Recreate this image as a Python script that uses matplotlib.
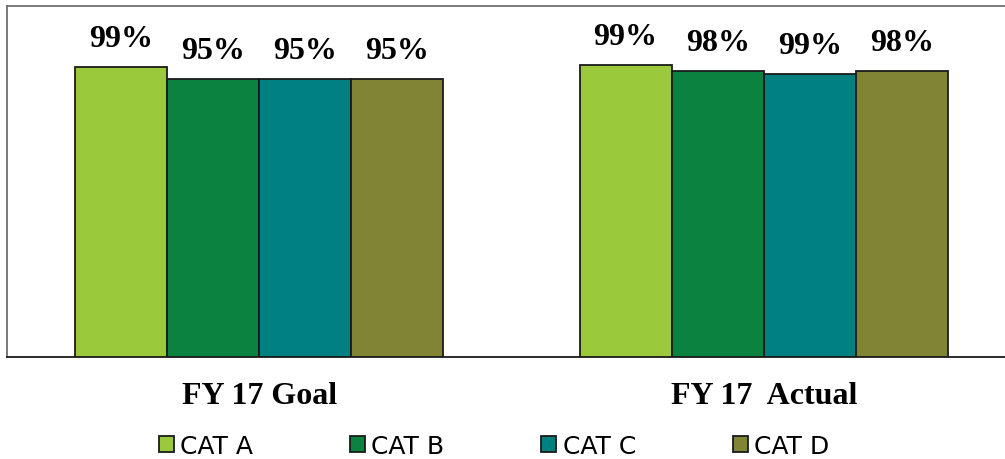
import matplotlib
matplotlib.use("Agg")
import matplotlib.pyplot as plt
from matplotlib.patches import Patch
import numpy as np

groups = ["FY 17 Goal", "FY 17  Actual"]
categories = ["CAT A", "CAT B", "CAT C", "CAT D"]
values = {
    "CAT A": [99.0, 99.7],
    "CAT B": [95.0, 97.8],
    "CAT C": [95.0, 96.8],
    "CAT D": [95.0, 97.8],
}
labels = {
    "CAT A": ["99%", "99%"],
    "CAT B": ["95%", "98%"],
    "CAT C": ["95%", "99%"],
    "CAT D": ["95%", "98%"],
}
colors = ["#9ACA3C", "#0C8241", "#008080", "#808434"]

W, H = 1005, 460
fig = plt.figure(figsize=(W / 100, H / 100), dpi=100)
ax = fig.add_axes([7 / W, (H - 358) / H, 1009 / W, 351 / H])

x = np.arange(len(groups))
bw = 92 / 504
serif = ["Liberation Serif", "DejaVu Serif"]
for i, cat in enumerate(categories):
    pos = x + (i - 1.5) * bw
    bars = ax.bar(pos, values[cat], width=bw, color=colors[i],
                  edgecolor="#1a1a1a", linewidth=1.3, zorder=3)
    for b, lab in zip(bars, labels[cat]):
        ax.annotate(lab, (b.get_x() + b.get_width() / 2, b.get_height()),
                    xytext=(0, 20.5), textcoords="offset points",
                    ha="center", va="center", fontsize=23,
                    fontweight="bold", family=serif)

ax.set_xlim(-0.5, 1.5)
ax.set_ylim(0, 120)
ax.set_yticks([])
ax.set_xticks(x)
ax.set_xticklabels(groups, fontsize=23, fontweight="bold", family=serif)
ax.tick_params(axis="x", length=0, pad=17)

ax.spines["top"].set_color("#707070")
ax.spines["left"].set_color("#707070")
ax.spines["right"].set_visible(False)
ax.spines["bottom"].set_color("#1a1a1a")
for s in ax.spines.values():
    s.set_linewidth(1.3)

handles = [Patch(facecolor=c, edgecolor="#1a1a1a", linewidth=1.3) for c in colors]
fig.legend(handles, categories, loc="center", ncol=4,
           bbox_to_anchor=(494 / W, 1 - 447 / H), frameon=False,
           prop={"family": "DejaVu Sans", "size": 18},
           handlelength=0.6, handleheight=0.6, handletextpad=0.25,
           columnspacing=3.88)

fig.savefig("out.png", dpi=100)
